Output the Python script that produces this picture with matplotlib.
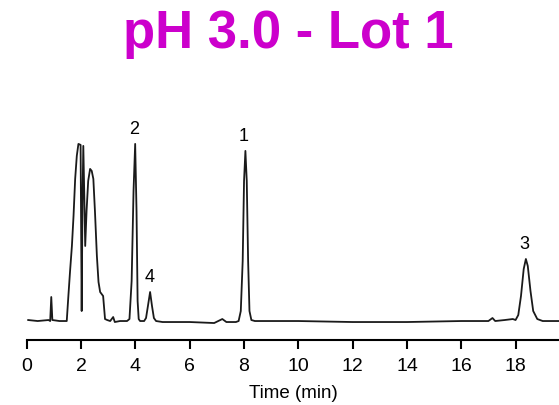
import matplotlib
matplotlib.use("Agg")
import matplotlib.pyplot as plt

# chromatogram trace (time in min, signal in arbitrary units)
time_min = [
    0.05, 0.40, 0.80, 0.86, 0.90, 0.94, 1.20, 1.47,
    1.53, 1.59, 1.66, 1.72, 1.78, 1.84, 1.90, 1.98, 2.02, 2.05, 2.08, 2.12,
    2.15, 2.20, 2.26, 2.33, 2.39, 2.45, 2.51, 2.58, 2.64, 2.70, 2.81, 2.88,
    2.96, 3.07, 3.18, 3.24, 3.43, 3.69,
    3.78, 3.86, 3.93, 3.99, 4.04, 4.08, 4.12, 4.17,
    4.32, 4.39, 4.46, 4.54, 4.61, 4.68, 4.76,
    5.00, 6.00, 6.90, 7.20, 7.35, 7.70,
    7.80, 7.88, 7.95, 8.00, 8.05, 8.10, 8.15, 8.20, 8.27, 8.40,
    9.00, 10.0, 12.0, 14.0, 16.0, 17.0, 17.15, 17.25, 17.60, 17.90,
    18.00, 18.10, 18.20, 18.30, 18.38, 18.45, 18.55, 18.65, 18.80, 19.00, 19.60,
]
signal = [
    1, 0, 1, 0, 24, 1, 0, 0,
    25, 49, 75, 105, 142, 165, 177, 176, 10, 120, 175, 120,
    75, 110, 140, 152, 150, 142, 109, 65, 39, 29, 25, 2,
    1, 0, 4, -1, 0, 0,
    2, 40, 130, 177, 110, 20, 2, 0,
    0, 3, 15, 29, 15, 3, 0,
    -1, -1, -2, 2, -1, -1,
    0, 10, 60, 140, 170, 140, 60, 10, 1, 0,
    0, 0, -1, -1, 0, 0, 3, 0, 1, 2,
    1, 6, 25, 52, 62, 55, 30, 10, 2, 0, 0,
]

peak_names = ["2", "4", "1", "3"]
peak_times = [3.95, 4.52, 7.98, 18.33]
peak_heights = [177, 29, 170, 62]

x_ticks = [0, 2, 4, 6, 8, 10, 12, 14, 16, 18]

plt.rcParams["font.family"] = ["Liberation Sans", "DejaVu Sans"]

fig = plt.figure(figsize=(5.59, 4.06), dpi=100)
ax = fig.add_axes([0.048, 0.160, 0.952, 0.594])

ax.plot(time_min, signal, color="#1a1a1a", linewidth=1.3)

for name, t, h in zip(peak_names, peak_times, peak_heights):
    ax.annotate(name, (t, h), xytext=(0, 5), textcoords="offset points",
                ha="center", va="bottom", fontsize=13)

ax.set_xlim(0, 19.6)
ax.set_ylim(-19, 222)
ax.set_xticks(x_ticks)
ax.set_yticks([])
for side in ("left", "right", "top"):
    ax.spines[side].set_visible(False)
ax.spines["bottom"].set_linewidth(1.5)
ax.tick_params(axis="x", length=6.5, width=1.5, pad=6, labelsize=14)
ax.set_xlabel("Time (min)", fontsize=13.5, labelpad=7)

fig.text(0.515, 0.882, "pH 3.0 - Lot 1", color="#CC00CC", fontsize=38,
         fontweight="bold", ha="center", va="baseline")

fig.savefig("out.png", dpi=100)
